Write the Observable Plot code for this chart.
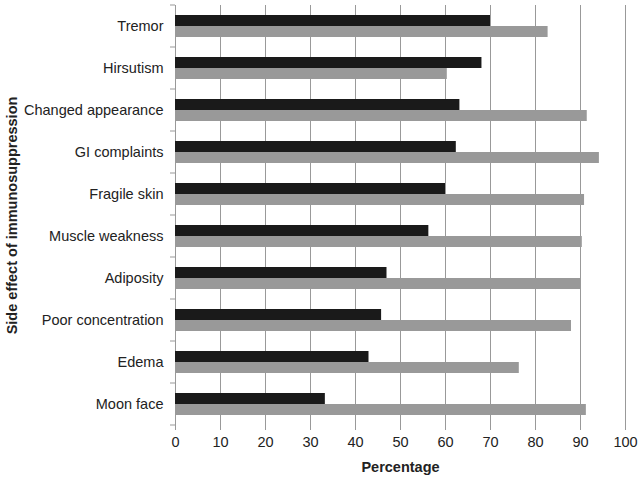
<!DOCTYPE html>
<html><head><meta charset="utf-8">
<script src="https://cdn.jsdelivr.net/npm/d3@7"></script>
<script src="https://cdn.jsdelivr.net/npm/@observablehq/plot@0.6"></script>
<style>
body{margin:0;background:#fff;}
svg{font-family:"Liberation Sans",Arial,sans-serif;}
g[aria-label="fy-axis label"] text, g[aria-label="x-axis label"] text{font-weight:bold;}
</style></head><body><div id="chart"></div>
<script>
const categories = ["Tremor","Hirsutism","Changed appearance","GI complaints","Fragile skin","Muscle weakness","Adiposity","Poor concentration","Edema","Moon face"];
const seriesNames = ["Series 1","Series 2"];
const series1 = [70.0,68.1,63.2,62.4,60.0,56.3,47.0,45.8,43.0,33.3];
const series2 = [82.8,60.4,91.5,94.2,90.9,90.4,90.1,88.0,76.4,91.3];
const xTicks = [0,10,20,30,40,50,60,70,80,90,100];
const colors = ["#1a1a1a","#999999"];

const data = categories.flatMap((c,i)=>[
  {category:c, series:seriesNames[0], value:series1[i]},
  {category:c, series:seriesNames[1], value:series2[i]}
]);

const chart = Plot.plot({
  width:640, height:478,
  marginLeft:175, marginRight:15, marginTop:3, marginBottom:51,
  style:{fontFamily:'"Liberation Sans",Arial,sans-serif', fontSize:"14.5px", color:"#222", background:"white"},
  x:{domain:[0,100]},
  fy:{domain:categories, padding:0},
  y:{domain:seriesNames, paddingInner:0, paddingOuter:0.82, axis:null},
  color:{domain:seriesNames, range:colors},
  marks:[
    Plot.gridX(xTicks,{stroke:"#999", strokeOpacity:1}),
    Plot.ruleX([0],{stroke:"#999"}),
    Plot.barX(data,{fy:"category", y:"series", x:"value", fill:"series"}),
    Plot.axisX(xTicks,{tickSize:5, tickPadding:6, stroke:"#999", line:true, label:"Percentage", labelAnchor:"center", labelArrow:"none", labelOffset:46, fontSize:14.5}),
    Plot.axisFy({anchor:"left", tickSize:0, tickPadding:12, label:"Side effect of immunosuppression", labelAnchor:"center", labelArrow:"none", labelOffset:169, fontSize:14.5})
  ]
});
document.getElementById("chart").appendChild(chart);

// separator ticks on the category axis at band boundaries
const fy = chart.scale("fy");
const xs = chart.scale("x");
const x0 = xs.apply(0);
const bounds = categories.map(c => fy.apply(c)).concat([fy.apply(categories[categories.length-1]) + fy.bandwidth]);
const g = d3.select(chart).append("g").attr("stroke","#999");
bounds.forEach(b => g.append("line").attr("x1", x0-5).attr("x2", x0).attr("y1", b).attr("y2", b));
</script></body></html>
